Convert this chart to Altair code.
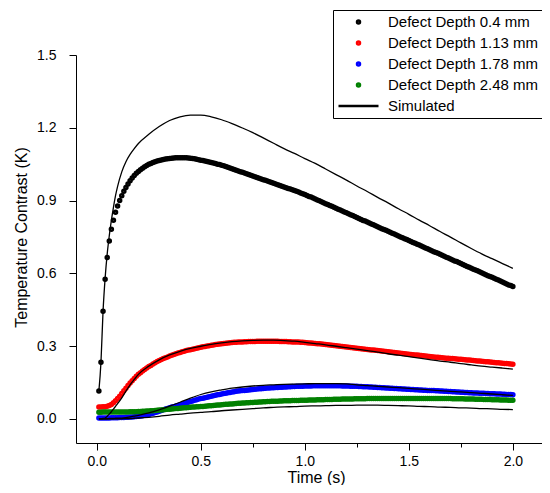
import altair as alt
import pandas as pd

# ---------------- data ----------------
LABELS = ["Defect Depth 0.4 mm", "Defect Depth 1.13 mm", "Defect Depth 1.78 mm",
          "Defect Depth 2.48 mm", "Simulated"]
COLORS = ["black", "#ff0000", "#0000ff", "#008000", "black"]
SHAPES = ["circle", "circle", "circle", "circle", "stroke"]
SIZES = [9, 9, 9, 9, 1600]

# measurement time grid (s): 0.01 ... 2.00
T_DOTS = [round(0.01 * i, 2) for i in range(1, 201)]

D04 = [0.114, 0.233, 0.443, 0.575, 0.665, 0.733, 0.781, 0.819, 0.852, 0.877,
       0.900, 0.920, 0.938, 0.954, 0.968, 0.981, 0.993, 1.003, 1.012, 1.020,
       1.027, 1.033, 1.039, 1.044, 1.049, 1.053, 1.057, 1.060, 1.063, 1.065,
       1.067, 1.069, 1.071, 1.072, 1.073, 1.074, 1.075, 1.076, 1.076, 1.076,
       1.076, 1.076, 1.076, 1.075, 1.074, 1.073, 1.072, 1.070, 1.068, 1.066,
       1.065, 1.063, 1.061, 1.059, 1.057, 1.055, 1.053, 1.050, 1.048, 1.045,
       1.043, 1.040, 1.037, 1.034, 1.031, 1.028, 1.025, 1.022, 1.019, 1.016,
       1.013, 1.010, 1.007, 1.004, 1.001, 0.998, 0.995, 0.992, 0.989, 0.986,
       0.983, 0.980, 0.977, 0.974, 0.971, 0.968, 0.965, 0.962, 0.959, 0.956,
       0.953, 0.950, 0.947, 0.944, 0.941, 0.938, 0.935, 0.931, 0.928, 0.925,
       0.921, 0.917, 0.914, 0.910, 0.906, 0.902, 0.899, 0.895, 0.891, 0.887,
       0.883, 0.879, 0.876, 0.872, 0.868, 0.864, 0.861, 0.857, 0.853, 0.849,
       0.845, 0.841, 0.838, 0.834, 0.830, 0.826, 0.822, 0.818, 0.815, 0.811,
       0.807, 0.803, 0.800, 0.796, 0.792, 0.788, 0.784, 0.780, 0.777, 0.773,
       0.769, 0.765, 0.762, 0.758, 0.754, 0.750, 0.746, 0.742, 0.739, 0.735,
       0.731, 0.727, 0.724, 0.720, 0.716, 0.712, 0.708, 0.704, 0.701, 0.697,
       0.693, 0.689, 0.686, 0.682, 0.678, 0.674, 0.670, 0.666, 0.663, 0.659,
       0.655, 0.651, 0.648, 0.644, 0.640, 0.636, 0.632, 0.628, 0.625, 0.621,
       0.617, 0.613, 0.610, 0.606, 0.602, 0.598, 0.594, 0.590, 0.587, 0.583,
       0.579, 0.575, 0.572, 0.568, 0.564, 0.560, 0.556, 0.552, 0.549, 0.545]

D113 = [0.048, 0.048, 0.049, 0.050, 0.052, 0.055, 0.059, 0.066, 0.074, 0.083,
        0.093, 0.104, 0.115, 0.126, 0.137, 0.147, 0.157, 0.166, 0.175, 0.183,
        0.190, 0.197, 0.203, 0.209, 0.215, 0.220, 0.226, 0.231, 0.236, 0.240,
        0.244, 0.248, 0.252, 0.255, 0.259, 0.262, 0.265, 0.268, 0.271, 0.273,
        0.276, 0.278, 0.281, 0.283, 0.285, 0.287, 0.289, 0.291, 0.293, 0.295,
        0.297, 0.298, 0.300, 0.301, 0.303, 0.304, 0.306, 0.307, 0.308, 0.309,
        0.310, 0.311, 0.312, 0.313, 0.314, 0.315, 0.315, 0.316, 0.317, 0.317,
        0.318, 0.318, 0.319, 0.319, 0.319, 0.319, 0.320, 0.320, 0.320, 0.320,
        0.320, 0.320, 0.320, 0.320, 0.320, 0.320, 0.320, 0.319, 0.319, 0.319,
        0.319, 0.318, 0.318, 0.317, 0.317, 0.316, 0.316, 0.315, 0.315, 0.314,
        0.313, 0.312, 0.312, 0.311, 0.310, 0.309, 0.309, 0.308, 0.307, 0.306,
        0.305, 0.304, 0.303, 0.302, 0.301, 0.300, 0.299, 0.298, 0.297, 0.296,
        0.295, 0.294, 0.293, 0.292, 0.291, 0.290, 0.289, 0.288, 0.287, 0.286,
        0.285, 0.284, 0.283, 0.282, 0.281, 0.280, 0.279, 0.278, 0.277, 0.276,
        0.275, 0.274, 0.273, 0.272, 0.271, 0.270, 0.269, 0.268, 0.267, 0.266,
        0.265, 0.264, 0.263, 0.263, 0.262, 0.261, 0.260, 0.259, 0.258, 0.257,
        0.256, 0.255, 0.254, 0.254, 0.253, 0.252, 0.251, 0.250, 0.249, 0.248,
        0.248, 0.247, 0.246, 0.245, 0.245, 0.244, 0.243, 0.242, 0.242, 0.241,
        0.240, 0.239, 0.238, 0.238, 0.237, 0.236, 0.235, 0.235, 0.234, 0.233,
        0.232, 0.231, 0.231, 0.230, 0.229, 0.228, 0.228, 0.227, 0.226, 0.225]

D178 = [0.003, 0.003, 0.003, 0.003, 0.003, 0.003, 0.004, 0.004, 0.004, 0.004,
        0.005, 0.005, 0.005, 0.006, 0.006, 0.007, 0.007, 0.008, 0.009, 0.010,
        0.011, 0.012, 0.014, 0.016, 0.018, 0.021, 0.023, 0.026, 0.028, 0.031,
        0.034, 0.037, 0.040, 0.042, 0.045, 0.048, 0.050, 0.053, 0.055, 0.058,
        0.060, 0.063, 0.066, 0.068, 0.071, 0.073, 0.076, 0.078, 0.081, 0.083,
        0.085, 0.087, 0.089, 0.091, 0.093, 0.095, 0.097, 0.099, 0.100, 0.102,
        0.104, 0.105, 0.107, 0.108, 0.110, 0.111, 0.113, 0.114, 0.115, 0.116,
        0.117, 0.118, 0.119, 0.120, 0.121, 0.122, 0.123, 0.124, 0.124, 0.125,
        0.126, 0.127, 0.127, 0.128, 0.128, 0.129, 0.129, 0.130, 0.130, 0.131,
        0.131, 0.132, 0.132, 0.133, 0.133, 0.134, 0.134, 0.134, 0.134, 0.135,
        0.135, 0.135, 0.135, 0.136, 0.136, 0.136, 0.136, 0.136, 0.136, 0.136,
        0.136, 0.136, 0.136, 0.136, 0.136, 0.136, 0.136, 0.135, 0.135, 0.135,
        0.135, 0.134, 0.134, 0.134, 0.134, 0.133, 0.133, 0.132, 0.132, 0.132,
        0.131, 0.131, 0.130, 0.130, 0.129, 0.129, 0.128, 0.128, 0.127, 0.127,
        0.126, 0.126, 0.125, 0.125, 0.124, 0.124, 0.123, 0.123, 0.122, 0.122,
        0.121, 0.121, 0.120, 0.120, 0.119, 0.119, 0.118, 0.118, 0.117, 0.117,
        0.116, 0.116, 0.115, 0.115, 0.114, 0.114, 0.113, 0.113, 0.112, 0.112,
        0.111, 0.111, 0.110, 0.110, 0.109, 0.109, 0.108, 0.108, 0.107, 0.107,
        0.106, 0.106, 0.106, 0.105, 0.105, 0.105, 0.104, 0.104, 0.103, 0.103,
        0.103, 0.102, 0.102, 0.102, 0.101, 0.101, 0.100, 0.100, 0.100, 0.099]

D248 = [0.027, 0.027, 0.028, 0.028, 0.028, 0.028, 0.028, 0.028, 0.028, 0.028,
        0.028, 0.028, 0.028, 0.028, 0.028, 0.029, 0.029, 0.029, 0.029, 0.030,
        0.030, 0.031, 0.031, 0.032, 0.032, 0.033, 0.033, 0.034, 0.035, 0.036,
        0.036, 0.037, 0.038, 0.039, 0.039, 0.040, 0.041, 0.042, 0.042, 0.043,
        0.044, 0.045, 0.045, 0.046, 0.047, 0.048, 0.048, 0.049, 0.050, 0.051,
        0.051, 0.052, 0.053, 0.054, 0.054, 0.055, 0.056, 0.057, 0.057, 0.058,
        0.059, 0.060, 0.060, 0.061, 0.061, 0.062, 0.063, 0.064, 0.064, 0.065,
        0.065, 0.066, 0.066, 0.067, 0.067, 0.068, 0.068, 0.069, 0.069, 0.070,
        0.070, 0.071, 0.071, 0.072, 0.072, 0.072, 0.072, 0.073, 0.073, 0.074,
        0.074, 0.074, 0.074, 0.075, 0.075, 0.075, 0.075, 0.076, 0.076, 0.076,
        0.076, 0.077, 0.077, 0.077, 0.077, 0.078, 0.078, 0.078, 0.078, 0.079,
        0.079, 0.079, 0.079, 0.080, 0.080, 0.080, 0.080, 0.081, 0.081, 0.081,
        0.081, 0.081, 0.081, 0.082, 0.082, 0.082, 0.082, 0.082, 0.082, 0.083,
        0.083, 0.083, 0.083, 0.083, 0.083, 0.083, 0.083, 0.084, 0.084, 0.084,
        0.084, 0.084, 0.084, 0.084, 0.084, 0.084, 0.084, 0.084, 0.084, 0.084,
        0.084, 0.084, 0.084, 0.084, 0.084, 0.084, 0.084, 0.084, 0.084, 0.084,
        0.083, 0.083, 0.083, 0.083, 0.083, 0.083, 0.083, 0.083, 0.083, 0.083,
        0.082, 0.082, 0.082, 0.082, 0.082, 0.082, 0.081, 0.081, 0.081, 0.081,
        0.081, 0.080, 0.080, 0.080, 0.080, 0.079, 0.079, 0.079, 0.079, 0.078,
        0.078, 0.078, 0.078, 0.077, 0.077, 0.077, 0.077, 0.076, 0.076, 0.076]

# simulation time grid (s)
T_SIM = [0.01, 0.02, 0.03, 0.04, 0.05, 0.06, 0.07, 0.08, 0.09, 0.10,
         0.12, 0.14, 0.16, 0.18, 0.20] + [round(0.05 * i, 2) for i in range(5, 41)]

S04 = [0.114, 0.233, 0.443, 0.580, 0.680, 0.755, 0.818, 0.872, 0.920, 0.958,
       1.018, 1.060, 1.090, 1.114, 1.135,
       1.173, 1.205, 1.230, 1.245, 1.252, 1.252, 1.245, 1.233, 1.217, 1.199,
       1.180, 1.158, 1.136, 1.114, 1.094, 1.073, 1.053, 1.030, 1.007, 0.984,
       0.960, 0.937, 0.913, 0.890, 0.866, 0.843, 0.819, 0.796, 0.772, 0.749,
       0.725, 0.702, 0.680, 0.660, 0.640, 0.620]

S113 = [0.000, 0.000, 0.001, 0.003, 0.010, 0.019, 0.029, 0.040, 0.051, 0.062,
        0.086, 0.114, 0.140, 0.162, 0.183,
        0.217, 0.243, 0.263, 0.278, 0.290, 0.299, 0.307, 0.313, 0.318, 0.321,
        0.323, 0.324, 0.324, 0.322, 0.320, 0.315, 0.310, 0.305, 0.299, 0.293,
        0.287, 0.281, 0.275, 0.268, 0.262, 0.256, 0.250, 0.244, 0.238, 0.233,
        0.227, 0.222, 0.217, 0.213, 0.209, 0.205]

S178 = [0.000, 0.000, 0.000, 0.000, 0.000, 0.001, 0.001, 0.001, 0.002, 0.002,
        0.003, 0.005, 0.008, 0.011, 0.014,
        0.024, 0.037, 0.052, 0.068, 0.085, 0.100, 0.111, 0.119, 0.126, 0.131,
        0.135, 0.138, 0.140, 0.142, 0.143, 0.144, 0.145, 0.145, 0.145, 0.144,
        0.140, 0.137, 0.134, 0.131, 0.128, 0.125, 0.122, 0.119, 0.116, 0.113,
        0.111, 0.108, 0.105, 0.102, 0.099, 0.096]

S248 = [0.000, 0.000, 0.000, 0.000, 0.000, 0.000, 0.000, 0.000, 0.000, 0.000,
        0.000, 0.001, 0.001, 0.002, 0.003,
        0.006, 0.010, 0.015, 0.019, 0.023, 0.026, 0.029, 0.033, 0.036, 0.039,
        0.042, 0.045, 0.047, 0.049, 0.050, 0.052, 0.053, 0.054, 0.055, 0.055,
        0.056, 0.056, 0.056, 0.055, 0.054, 0.053, 0.051, 0.050, 0.048, 0.047,
        0.045, 0.044, 0.042, 0.041, 0.039, 0.038]

X_TICKS = [0, 0.25, 0.5, 0.75, 1, 1.25, 1.5, 1.75, 2]
X_MAJOR = [0, 0.5, 1, 1.5, 2]
Y_TICKS = [0, 0.15, 0.3, 0.45, 0.6, 0.75, 0.9, 1.05, 1.2, 1.35, 1.5]
Y_MAJOR = [0, 0.3, 0.6, 0.9, 1.2, 1.5]

# ---------------- tables ----------------
rows = []
for name, vals in zip(LABELS[:4], [D04, D113, D178, D248]):
    for t, v in zip(T_DOTS, vals):
        rows.append({"t": t, "v": v, "series": name})
dots = pd.DataFrame(rows)

rows = []
for name, vals in zip(["s04", "s113", "s178", "s248"], [S04, S113, S178, S248]):
    for t, v in zip(T_SIM, vals):
        rows.append({"t": t, "v": v, "sim": name})
sims = pd.DataFrame(rows)

FONT = "Liberation Sans"
xm = "[" + ",".join(str(v) for v in X_MAJOR) + "]"
ym = "[" + ",".join(str(v) for v in Y_MAJOR) + "]"

x_enc = alt.X("t:Q", scale=alt.Scale(domain=[-0.1, 2.14], nice=False, zero=False),
              axis=alt.Axis(title="Time (s)", values=X_TICKS,
                            labelExpr=f"indexof({xm}, datum.value) >= 0 ? format(datum.value, '.1f') : ''",
                            grid=False,
                            tickSize={"condition": {"test": f"indexof({xm}, datum.value) >= 0", "value": 7}, "value": 4},
                            labelPadding=4, titleX=240, titleY=39, titleBaseline="alphabetic",
                            labelFlush=False))
y_enc = alt.Y("v:Q", scale=alt.Scale(domain=[-0.1, 1.5], nice=False, zero=False),
              axis=alt.Axis(title="Temperature Contrast (K)", values=Y_TICKS,
                            labelExpr=f"indexof({ym}, datum.value) >= 0 ? format(datum.value, '.1f') : ''",
                            grid=False,
                            tickSize={"condition": {"test": f"indexof({ym}, datum.value) >= 0", "value": 7}, "value": 4},
                            labelPadding=13, titleY=182, titleX=-47, labelFlush=False))

legend_def = dict(
    title=None, orient="none", legendX=257, legendY=-45,
    strokeColor="black", fillColor="white", padding=4,
    labelOffset=8, labelFontSize=15, labelFont=FONT, labelLimit=400,
    labelColor="black", rowPadding=5, clipHeight=16, symbolStrokeWidth=2.5,
)

points = alt.Chart(dots).mark_point(filled=False, strokeWidth=2.5, opacity=1).encode(
    x=x_enc, y=y_enc,
    color=alt.Color("series:N", scale=alt.Scale(domain=LABELS, range=COLORS),
                    legend=alt.Legend(**legend_def)),
    shape=alt.Shape("series:N", scale=alt.Scale(domain=LABELS, range=SHAPES),
                    legend=alt.Legend(**legend_def)),
    size=alt.Size("series:N", scale=alt.Scale(type="ordinal", domain=LABELS, range=SIZES),
                  legend=alt.Legend(**legend_def)),
)

lines = alt.Chart(sims).mark_line(color="black", strokeWidth=1.3, interpolate="monotone").encode(
    x="t:Q", y="v:Q", detail="sim:N"
)

chart = alt.layer(points, lines).properties(
    width=466, height=388,
    padding={"left": 68, "top": 47, "right": 0, "bottom": 42},
    autosize=alt.AutoSizeParams(type="none"),
).configure_view(stroke=None).configure_axis(
    domainColor="black", tickColor="black", labelColor="black", titleColor="black",
    labelFont=FONT, titleFont=FONT, labelFontSize=14, titleFontSize=16,
    titleFontWeight="normal", domainWidth=1, tickWidth=1,
)

chart.save("out.html", embed_options={"renderer": "svg", "actions": False})
